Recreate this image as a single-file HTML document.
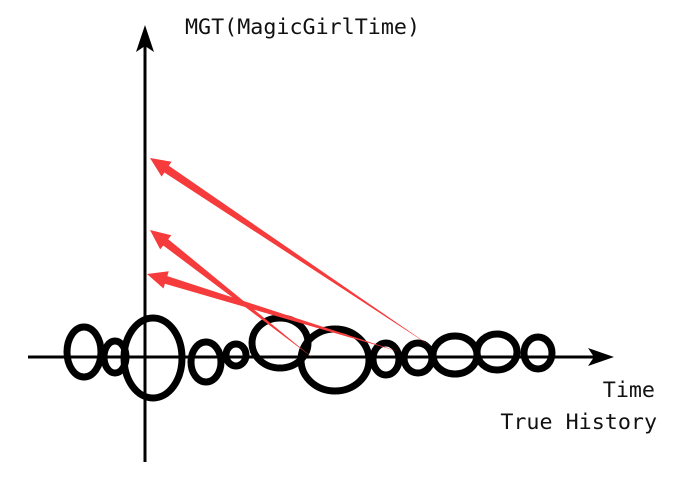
<!DOCTYPE html>
<html><head><meta charset="utf-8"><style>
body{margin:0;background:#fff}
svg{display:block}
text{font-family:"DejaVu Sans Mono","Liberation Mono",monospace;font-size:21.7px;fill:#111}
</style></head><body>
<svg width="690" height="489" viewBox="0 0 690 489">
<g id="blobs" fill="none" stroke="#000" stroke-width="7"></g>
<g stroke="#000" stroke-width="3">
<line x1="145" y1="462" x2="145" y2="40"/>
<line x1="28" y1="357" x2="600" y2="357"/>
</g>
<polygon points="145,25 136,52 145,46 154,52" fill="#000"/>
<polygon points="614,357 588,348 594,357 588,366" fill="#000"/>
<g id="arrows" fill="#f53b3b"></g>
<text x="185" y="34">MGT(MagicGirlTime)</text>
<text x="655" y="397" text-anchor="end">Time</text>
<text x="657" y="429" text-anchor="end">True History</text>
</svg>
<script>
var blobCx=[84,115,153,206,236,280,335,386,418,455,497,538];
var blobCy=[352,357,358,362,355,343,360,359,358,355,352,353];
var blobW=[34,22,58,30,20,56,68,26,28,44,40,28];
var blobH=[50,32,80,40,22,50,62,32,30,38,36,32];
var arrowTipX=[150,150,147];
var arrowTipY=[158,230,274];
var arrowTailX=[432,313,400];
var arrowTailY=[347,358,352];
var NS="http://www.w3.org/2000/svg";
var gb=document.getElementById('blobs');
for(var i=0;i<blobCx.length;i++){
  var e=document.createElementNS(NS,'ellipse');
  e.setAttribute('cx',blobCx[i]);e.setAttribute('cy',blobCy[i]);
  e.setAttribute('rx',blobW[i]/2);e.setAttribute('ry',blobH[i]/2);
  
  
  gb.appendChild(e);
}
var ga=document.getElementById('arrows');
for(var j=0;j<arrowTipX.length;j++){
  var tx=arrowTipX[j],ty=arrowTipY[j],sx=arrowTailX[j],sy=arrowTailY[j];
  var dx=tx-sx,dy=ty-sy,L=Math.sqrt(dx*dx+dy*dy),ux=dx/L,uy=dy/L,nx=-uy,ny=ux;
  var hl=20,hw=9,sw=4;
  var bx=tx-ux*hl,by=ty-uy*hl;
  var pts=[[sx,sy],[bx+nx*sw,by+ny*sw],[bx+nx*hw,by+ny*hw],[tx,ty],[bx-nx*hw,by-ny*hw],[bx-nx*sw,by-ny*sw]];
  var p=document.createElementNS(NS,'polygon');
  p.setAttribute('points',pts.map(function(a){return a[0].toFixed(1)+','+a[1].toFixed(1)}).join(' '));
  
  
  ga.appendChild(p);
}
</script>
</body></html>
